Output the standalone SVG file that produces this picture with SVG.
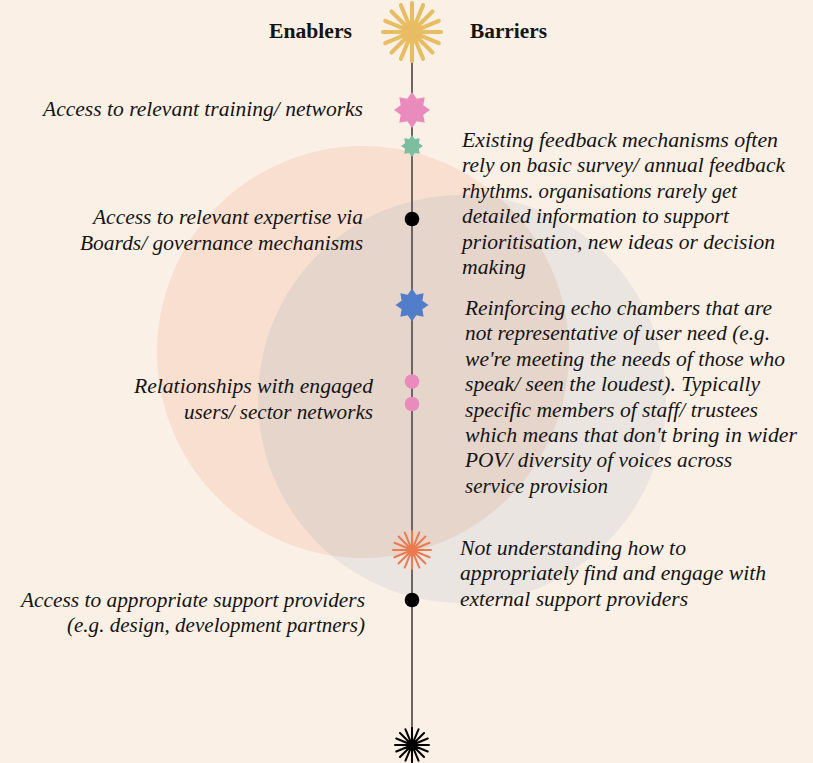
<svg xmlns="http://www.w3.org/2000/svg" width="813" height="763" viewBox="0 0 813 763">
<style>
.t{font-family:"Liberation Serif","Times New Roman",serif;font-style:italic;font-size:20px;fill:#141414}
.e{text-anchor:end}
.h{font-family:"Liberation Serif","Times New Roman",serif;font-weight:bold;font-size:20px;fill:#141414}
.spine{stroke:#6a6666;stroke-width:2;fill:none}
.burst{fill:none;stroke-linecap:round}
</style>
<defs>
<path id="star" d="M0 -10 L2.6 -6.28 L7.07 -7.07 L6.28 -2.6 L10 0 L6.28 2.6 L7.07 7.07 L2.6 6.28 L0 10 L-2.6 6.28 L-7.07 7.07 L-6.28 2.6 L-10 0 L-6.28 -2.6 L-7.07 -7.07 L-2.6 -6.28 Z"/>
<path id="rays" d="M0 -10 L0 10 M3.83 -9.24 L-3.83 9.24 M7.07 -7.07 L-7.07 7.07 M9.24 -3.83 L-9.24 3.83 M10 0 L-10 0 M9.24 3.83 L-9.24 -3.83 M7.07 7.07 L-7.07 -7.07 M3.83 9.24 L-3.83 -9.24"/>
<clipPath id="peachClip"><circle cx="363" cy="352" r="206"/></clipPath>
</defs>
<rect width="813" height="763" fill="#FBF0E5"/>
<g id="background-circles">
<circle cx="363" cy="352" r="206" fill="#F8DFCF"/>
<circle cx="462" cy="399" r="204" fill="#EAE5E0"/>
<circle cx="462" cy="399" r="204" fill="#E6D5CB" clip-path="url(#peachClip)"/>
</g>
<g id="connectors">
<line class="spine" x1="412" y1="32" x2="412" y2="745"/>
</g>
<g id="header-enablers"><text class="h e" x="352" y="38" textLength="83" lengthAdjust="spacingAndGlyphs">Enablers</text></g>
<g id="header-barriers"><text class="h" x="470" y="38" textLength="77" lengthAdjust="spacingAndGlyphs">Barriers</text></g>
<g id="marker-top"><use href="#rays" class="burst" transform="translate(412 32) scale(2.9)" stroke="#E8BC63" stroke-width="1.4"/></g>
<g id="marker-pink-star"><use href="#star" transform="translate(412 110) scale(1.8)" fill="#E98BBD"/></g>
<g id="marker-green-star"><use href="#star" transform="translate(412 146) scale(1.1)" fill="#7DBEA0"/></g>
<g id="marker-black-1"><circle cx="412" cy="219" r="7.3" fill="#000"/></g>
<g id="marker-blue-star"><use href="#star" transform="translate(412 305) scale(1.65)" fill="#527DC8"/></g>
<g id="marker-pink-dots"><circle cx="412" cy="381.5" r="7.3" fill="#E98BBD"/><circle cx="412" cy="404" r="7.3" fill="#E98BBD"/></g>
<g id="marker-orange"><use href="#rays" class="burst" transform="translate(412 550) scale(1.9)" stroke="#EC7A50" stroke-width="1.05"/></g>
<g id="marker-black-2"><circle cx="412" cy="600" r="7.3" fill="#000"/></g>
<g id="marker-bottom"><use href="#rays" class="burst" transform="translate(412 745) scale(1.7)" stroke="#000" stroke-width="1.2"/></g>
<g id="enabler-1"><text class="t e" x="363" y="116" textLength="320" lengthAdjust="spacingAndGlyphs">Access to relevant training/ networks</text></g>
<g id="enabler-2">
<text class="t e" x="363" y="224" textLength="270" lengthAdjust="spacingAndGlyphs">Access to relevant expertise via</text>
<text class="t e" x="363" y="249.5" textLength="283" lengthAdjust="spacingAndGlyphs">Boards/ governance mechanisms</text>
</g>
<g id="enabler-3">
<text class="t e" x="373" y="393" textLength="239" lengthAdjust="spacingAndGlyphs">Relationships with engaged</text>
<text class="t e" x="373" y="418.5" textLength="189" lengthAdjust="spacingAndGlyphs">users/ sector networks</text>
</g>
<g id="enabler-4">
<text class="t e" x="365" y="606.5" textLength="344" lengthAdjust="spacingAndGlyphs">Access to appropriate support providers</text>
<text class="t e" x="365" y="632" textLength="298" lengthAdjust="spacingAndGlyphs">(e.g. design, development partners)</text>
</g>
<g id="barrier-1">
<text class="t" x="462" y="147" textLength="316" lengthAdjust="spacingAndGlyphs">Existing feedback mechanisms often</text>
<text class="t" x="462" y="172.4" textLength="323" lengthAdjust="spacingAndGlyphs">rely on basic survey/ annual feedback</text>
<text class="t" x="462" y="197.8" textLength="275" lengthAdjust="spacingAndGlyphs">rhythms. organisations rarely get</text>
<text class="t" x="462" y="223.2" textLength="267" lengthAdjust="spacingAndGlyphs">detailed information to support</text>
<text class="t" x="462" y="248.6" textLength="313" lengthAdjust="spacingAndGlyphs">prioritisation, new ideas or decision</text>
<text class="t" x="462" y="274" textLength="64" lengthAdjust="spacingAndGlyphs">making</text>
</g>
<g id="barrier-2">
<text class="t" x="465" y="315" textLength="307" lengthAdjust="spacingAndGlyphs">Reinforcing echo chambers that are</text>
<text class="t" x="465" y="340.4" textLength="305" lengthAdjust="spacingAndGlyphs">not representative of user need (e.g.</text>
<text class="t" x="465" y="365.8" textLength="320" lengthAdjust="spacingAndGlyphs">we're meeting the needs of those who</text>
<text class="t" x="465" y="391.2" textLength="295" lengthAdjust="spacingAndGlyphs">speak/ seen the loudest). Typically</text>
<text class="t" x="465" y="416.6" textLength="293" lengthAdjust="spacingAndGlyphs">specific members of staff/ trustees</text>
<text class="t" x="465" y="442" textLength="332" lengthAdjust="spacingAndGlyphs">which means that don't bring in wider</text>
<text class="t" x="465" y="467.4" textLength="267" lengthAdjust="spacingAndGlyphs">POV/ diversity of voices across</text>
<text class="t" x="465" y="492.8" textLength="143" lengthAdjust="spacingAndGlyphs">service provision</text>
</g>
<g id="barrier-3">
<text class="t" x="460" y="555" textLength="226" lengthAdjust="spacingAndGlyphs">Not understanding how to</text>
<text class="t" x="460" y="580.4" textLength="306" lengthAdjust="spacingAndGlyphs">appropriately find and engage with</text>
<text class="t" x="460" y="605.8" textLength="228" lengthAdjust="spacingAndGlyphs">external support providers</text>
</g>
</svg>
